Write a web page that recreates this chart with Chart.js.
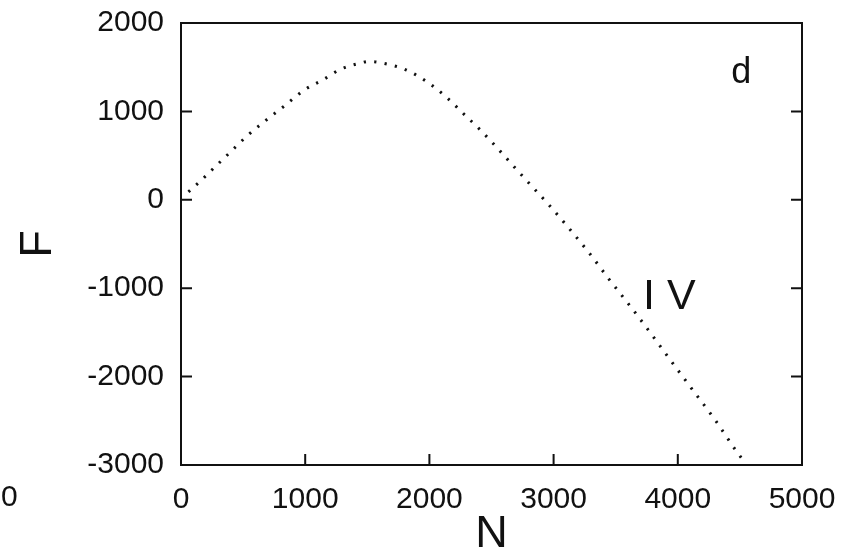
<!DOCTYPE html>
<html>
<head>
<meta charset="utf-8">
<script src="https://cdn.jsdelivr.net/npm/chart.js@4.4.1/dist/chart.umd.min.js"></script>
<style>
  html, body { margin: 0; padding: 0; background: #fff; }
  #wrap { width: 849px; height: 553px; }
</style>
</head>
<body>
<div id="wrap"><canvas id="chart"></canvas></div>
<script>
// --- data (panel d) ---
const nValues = [60, 170, 250, 390, 530, 680, 840, 990, 1140, 1290, 1440, 1510, 1660, 1820, 1980,
                 2130, 2270, 2410, 2560, 2700, 2840, 2970, 3280, 3450, 3640, 3800, 3960, 4130, 4300, 4460, 4520];
const fValues = [90, 230, 340, 530, 720, 895, 1070, 1240, 1355, 1480, 1545, 1565, 1535, 1465, 1335,
                 1170, 980, 790, 565, 345, 130, -70, -590, -905, -1245, -1545, -1850, -2170, -2490, -2820, -2935];
const xTicks = [0, 1000, 2000, 3000, 4000, 5000];
const yTicks = [-3000, -2000, -1000, 0, 1000, 2000];
const panelLabel = 'd';
const regionLabel = 'I V';
const strayLabel = '0';   // cut-off tick label of the neighbouring panel

const tickFont = { family: "'Liberation Sans', Arial, sans-serif", size: 30 };
const titleFont = { family: "'Liberation Sans Narrow', 'Arial Narrow', 'Liberation Sans', sans-serif", size: 45, lineHeight: 0.8 };

// inward tick marks, frame and free text
const framePlugin = {
    id: 'frame',
    afterDraw(chart) {
        const { ctx, chartArea: a, scales } = chart;
        ctx.save();
        ctx.strokeStyle = '#111';
        ctx.lineWidth = 2;
        ctx.strokeRect(a.left, a.top, a.right - a.left, a.bottom - a.top);
        const len = 11;
        ctx.beginPath();
        yTicks.forEach(v => {
            const y = scales.y.getPixelForValue(v);
            ctx.moveTo(a.left, y); ctx.lineTo(a.left + len, y);
            ctx.moveTo(a.right, y); ctx.lineTo(a.right - len, y);
        });
        xTicks.forEach(v => {
            const x = scales.x.getPixelForValue(v);
            ctx.moveTo(x, a.bottom); ctx.lineTo(x, a.bottom - len);
        });
        ctx.stroke();

        ctx.fillStyle = '#111';
        ctx.textBaseline = 'alphabetic';
        ctx.textAlign = 'left';
        ctx.font = "36px 'Liberation Sans', Arial, sans-serif";
        ctx.fillText(panelLabel, scales.x.getPixelForValue(4430), scales.y.getPixelForValue(1320));
        ctx.font = "43px 'Liberation Sans', Arial, sans-serif";
        ctx.fillText(regionLabel, scales.x.getPixelForValue(3720), scales.y.getPixelForValue(-1240));
        ctx.font = "30px 'Liberation Sans', Arial, sans-serif";
        ctx.textBaseline = 'middle';
        ctx.fillText(strayLabel, 1, 498);
        ctx.restore();
    }
};

// keep the plot box where the figure has it: no extra room for half labels
const noLabelPadding = (s) => { s.paddingTop = 0; s.paddingBottom = 0; s.paddingLeft = 0; s.paddingRight = 0; };

new Chart(document.getElementById('chart'), {
    type: 'line',
    data: {
        datasets: [{
            data: nValues.map((n, i) => ({ x: n, y: fValues[i] })),
            borderColor: '#111',
            borderWidth: 3,
            borderDash: [2.2, 8.3],
            pointRadius: 0,
            cubicInterpolationMode: 'monotone',
            fill: false
        }]
    },
    options: {
        responsive: true,
        maintainAspectRatio: false,
        animation: false,
        layout: { padding: { left: 0, top: 23, right: 47, bottom: 0 } },
        plugins: { legend: { display: false }, tooltip: { enabled: false } },
        scales: {
            x: {
                type: 'linear',
                min: 0, max: 5000,
                afterBuildTicks: (s) => { s.ticks = xTicks.map(v => ({ value: v })); },
                afterFit: (s) => { s.height = 88; noLabelPadding(s); },
                grid: { display: false, drawTicks: false },
                border: { display: true, color: '#111', width: 2 },
                ticks: { color: '#111', font: tickFont, padding: 17, maxRotation: 0, callback: (v) => String(v) },
                title: { display: true, text: 'N', color: '#111', font: titleFont, padding: { top: 0, bottom: 0 } }
            },
            y: {
                type: 'linear',
                min: -3000, max: 2000,
                afterBuildTicks: (s) => { s.ticks = yTicks.map(v => ({ value: v })); },
                afterFit: (s) => { s.width = 181; noLabelPadding(s); },
                grid: { display: false, drawTicks: false },
                border: { display: true, color: '#111', width: 2 },
                ticks: { color: '#111', font: tickFont, padding: 17, callback: (v) => String(v) },
                title: { display: true, text: 'F', color: '#111', font: titleFont, padding: { top: 21, bottom: 0 } }
            }
        }
    },
    plugins: [framePlugin]
});
</script>
</body>
</html>
